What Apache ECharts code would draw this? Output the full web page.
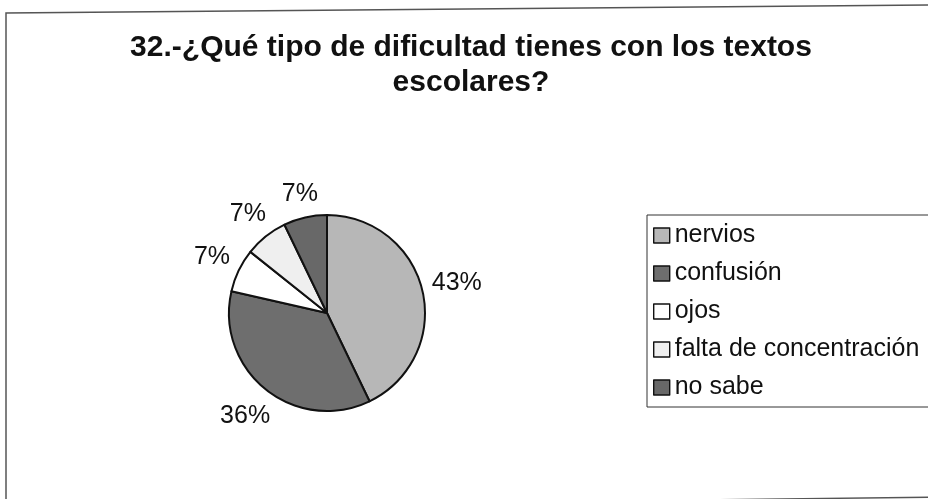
<!DOCTYPE html>
<html>
<head>
<meta charset="utf-8">
<script src="https://cdn.jsdelivr.net/npm/echarts@6/dist/echarts.min.js"></script>
<style>
html,body{margin:0;padding:0;background:#fff;}
#chart{width:928px;height:499px;}
</style>
</head>
<body>
<div id="chart"></div>
<script>
var titleText = '32.-¿Qué tipo de dificultad tienes con los textos\nescolares?';
var categories = ['nervios', 'confusión', 'ojos', 'falta de concentración', 'no sabe'];
var counts = [6, 5, 1, 1, 1];
var sliceColors = ['#b7b7b7', '#6e6e6e', '#ffffff', '#efefef', '#686868'];

var FONT = '"Liberation Sans", Arial, sans-serif';
var chart = echarts.init(document.getElementById('chart'), null, {renderer: 'canvas'});

var pieData = categories.map(function (c, i) {
  return {name: c, value: counts[i], itemStyle: {color: sliceColors[i]}};
});

var GAP = 8;
chart.setOption({
  backgroundColor: '#ffffff',
  animation: false,
  graphic: [
    {type: 'polyline', shape: {points: [[6, 520], [6, 13], [940, 5]]},
     style: {stroke: '#555', lineWidth: 1.5, fill: null}, silent: true},
    {type: 'polyline', shape: {points: [[300, 505], [940, 497]]},
     style: {stroke: '#555', lineWidth: 1.5, fill: null}, silent: true}
  ],
  title: {
    text: titleText,
    left: 471,
    textAlign: 'center',
    top: 30,
    padding: 0,
    textStyle: {fontFamily: FONT, fontSize: 30, fontWeight: 'bold', color: '#111', lineHeight: 35}
  },
  legend: {
    orient: 'vertical',
    left: 647,
    top: 215,
    padding: [8, 30, 7, 6],
    itemWidth: 16,
    itemHeight: 15,
    itemGap: 13,
    icon: 'rect',
    backgroundColor: '#fff',
    borderColor: '#333',
    borderWidth: 1,
    borderRadius: 0,
    itemStyle: {borderColor: '#111', borderWidth: 1.4},
    textStyle: {fontFamily: FONT, fontSize: 25, color: '#111', lineHeight: 25, padding: [0, 0, 0, 0]},
    data: categories
  },
  series: [{
    type: 'pie',
    center: [327, 313],
    radius: 98,
    startAngle: 90,
    clockwise: true,
    avoidLabelOverlap: false,
    data: pieData,
    itemStyle: {borderColor: '#111', borderWidth: 2},
    label: {
      show: true,
      position: 'outside',
      formatter: function (p) { return Math.round(p.percent) + '%'; },
      fontFamily: FONT,
      fontSize: 25,
      color: '#111'
    },
    labelLine: {show: true, length: 10, length2: 0, lineStyle: {opacity: 0, width: 0}},
    labelLayout: function (params) {
      var pts = params.labelLinePoints;
      if (!pts) return {};
      var p0 = pts[0], p1 = pts[1];
      var dx = p1[0] - p0[0], dy = p1[1] - p0[1];
      var len = Math.sqrt(dx * dx + dy * dy) || 1;
      dx /= len; dy /= len;
      var w = params.labelRect.width, h = 25;
      var half = Math.abs(dx) * w / 2 + Math.abs(dy) * h / 2;
      var d = GAP + half;
      return {
        x: p0[0] + dx * d,
        y: p0[1] + dy * d,
        align: 'center',
        verticalAlign: 'middle'
      };
    }
  }]
});
</script>
</body>
</html>
